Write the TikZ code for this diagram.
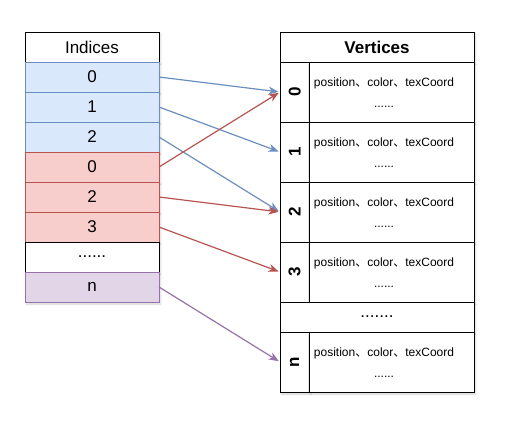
\documentclass[tikz,border=0pt]{standalone}
\usepackage{fontspec}
\setmainfont{Liberation Sans}
\newfontfamily\cjk{Noto Sans CJK SC}
\usetikzlibrary{arrows.meta,shadows.blur}
\definecolor{bluefill}{HTML}{DAE8FC}
\definecolor{bluedraw}{HTML}{6C8EBF}
\definecolor{redfill}{HTML}{F8CECC}
\definecolor{reddraw}{HTML}{B85450}
\definecolor{purplefill}{HTML}{E1D5E7}
\definecolor{purpledraw}{HTML}{9673A6}
\newcommand{\dun}{{\cjk 、}}
\begin{document}
\begin{tikzpicture}[x=1pt,y=-1pt,
  shad/.style={blur shadow={shadow xshift=1.5pt,shadow yshift=-2pt,shadow blur radius=2pt,shadow opacity=18}},
  box/.style={draw,line width=1pt,inner sep=0pt,outer sep=0pt,anchor=north west,shad},
  icell/.style={box,fill=white,minimum width=134pt,minimum height=30pt,font=\fontsize{17}{20}\selectfont},
  bluecell/.style={icell,fill=bluefill,draw=bluedraw},
  redcell/.style={icell,fill=redfill,draw=reddraw},
  purplecell/.style={icell,fill=purplefill,draw=purpledraw},
  vhead/.style={box,fill=white,minimum width=194pt,minimum height=30pt,font=\fontsize{17}{20}\selectfont\bfseries},
  vdots/.style={box,fill=white,minimum width=194pt,minimum height=30pt,font=\fontsize{17}{20}\selectfont},
  vlab/.style={box,fill=white,minimum width=29.3pt,minimum height=60pt},
  vlabtext/.style={font=\fontsize{17}{20}\selectfont\bfseries,rotate=90,inner sep=0pt},
  vbody/.style={box,fill=white,minimum width=164.7pt,minimum height=60pt},
  small/.style={font=\fontsize{12}{14}\selectfont,inner sep=0pt},
  link/.style={line width=1.2pt,-{Stealth[length=10pt,width=8pt,inset=3pt]},shorten >=1.5pt},
]
\useasboundingbox (0,0) rectangle (510,426);

% ---- Indices table ----
\node[icell] (ih) at (25,32) {Indices};
\node[bluecell] (i0) at (25,62) {0};
\node[bluecell] (i1) at (25,92) {1};
\node[bluecell] (i2) at (25,122) {2};
\node[redcell] (i3) at (25,152) {0};
\node[redcell] (i4) at (25,182) {2};
\node[redcell] (i5) at (25,212) {3};
\node[icell] (i6) at (25,242) {......};
\node[purplecell] (i7) at (25,272) {n};

% ---- Vertices table ----
\node[vhead] (vh) at (280,32) {Vertices};
\node[vlab] (lab0) at (280,62) {};
\node[vbody] (bod0) at (309.3,62) {};
\node[vlab] (lab1) at (280,122) {};
\node[vbody] (bod1) at (309.3,122) {};
\node[vlab] (lab2) at (280,182) {};
\node[vbody] (bod2) at (309.3,182) {};
\node[vlab] (lab3) at (280,242) {};
\node[vbody] (bod3) at (309.3,242) {};
\node[vdots] (vd) at (280,302) {.......};
\node[vlab] (labn) at (280,332) {};
\node[vbody] (bodn) at (309.3,332) {};

\node[vlabtext] (n0) at (lab0.center) {0};
\node[vlabtext] (n1) at (lab1.center) {1};
\node[vlabtext] (n2) at (lab2.center) {2};
\node[vlabtext] (n3) at (lab3.center) {3};
\node[vlabtext] (nn) at (labn.center) {n};

\foreach \r/\t in {0/62,1/122,2/182,3/242,n/332}{
  \node[small] (p\r) at (384,\t+21) {position\dun color\dun texCoord};
  \node[small,anchor=base] (d\r) at (384,\t+45) {......};
}

% ---- connectors ----
\draw[link,bluedraw] (i0.east) -- (lab0.west);
\draw[link,bluedraw] (i1.east) -- (lab1.west);
\draw[link,bluedraw] (i2.east) -- (lab2.west);
\draw[link,reddraw] (i3.east) -- (lab0.west);
\draw[link,reddraw] (i4.east) -- (lab2.west);
\draw[link,reddraw] (i5.east) -- (lab3.west);
\draw[link,purpledraw] (i7.east) -- (labn.west);
\end{tikzpicture}
\end{document}
